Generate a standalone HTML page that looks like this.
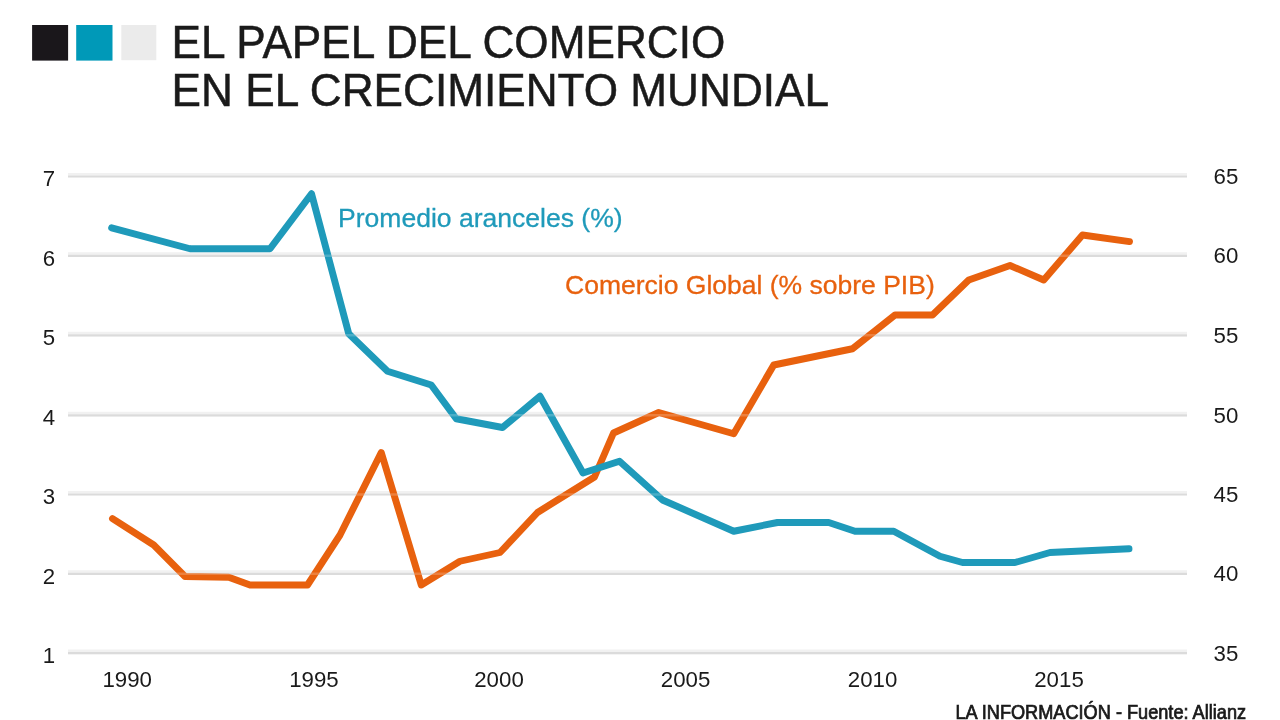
<!DOCTYPE html>
<html lang="es">
<head>
<meta charset="utf-8">
<title>El papel del comercio en el crecimiento mundial</title>
<style>
html,body{margin:0;padding:0;background:#fff;}
body{width:1280px;height:720px;overflow:hidden;position:relative;font-family:"Liberation Sans",Arial,Helvetica,sans-serif;}
svg{position:absolute;left:0;top:0;display:block;}
text{font-family:"Liberation Sans",Arial,Helvetica,sans-serif;fill:#1a1a1a;}
.title{font-size:46px;}
.ax{font-size:22px;}
.lab{font-size:25.5px;}
.foot{font-size:19.5px;}
</style>
</head>
<body>
<svg width="1280" height="720" viewBox="0 0 1280 720">
  <rect x="0" y="0" width="1280" height="720" fill="#ffffff"/>
  <g>
  <!-- header squares -->
  <rect x="32.1" y="25" width="36" height="35.6" fill="#1a171b"/>
  <rect x="76.2" y="25" width="36.3" height="35.6" fill="#0099b8"/>
  <rect x="121.3" y="25" width="35" height="35.2" fill="#ebebeb"/>
  <!-- gridlines -->
  <g stroke="#f1f1f1" stroke-width="2.4" fill="none">
    <line x1="68" y1="174.2" x2="1187" y2="174.2"/>
    <line x1="68" y1="253.5" x2="1187" y2="253.5"/>
    <line x1="68" y1="333" x2="1187" y2="333"/>
    <line x1="68" y1="413" x2="1187" y2="413"/>
    <line x1="68" y1="492.2" x2="1187" y2="492.2"/>
    <line x1="68" y1="571.5" x2="1187" y2="571.5"/>
    <line x1="68" y1="650.8" x2="1187" y2="650.8"/>
  </g>
  <g stroke="#d3d3d3" stroke-width="2.2" fill="none">
    <line x1="68" y1="176.5" x2="1187" y2="176.5"/>
    <line x1="68" y1="255.8" x2="1187" y2="255.8"/>
    <line x1="68" y1="335.3" x2="1187" y2="335.3"/>
    <line x1="68" y1="415.3" x2="1187" y2="415.3"/>
    <line x1="68" y1="494.5" x2="1187" y2="494.5"/>
    <line x1="68" y1="573.8" x2="1187" y2="573.8"/>
    <line x1="68" y1="653.1" x2="1187" y2="653.1"/>
  </g>
  <!-- series -->
  <polyline id="orange" fill="none" stroke="#e8610e" stroke-width="6.9" stroke-linejoin="round" stroke-linecap="round" points="112.5,518.6 153.75,545 185,576.5 228.75,577.3 250,585 307.5,585 340,535 381.25,452.5 421.25,585 460,561.25 500,552.5 537.5,512.5 594.5,477 613.5,433 658.75,412.5 733.75,433.75 773.75,365 852.5,348.75 895,315 932.5,315 968.75,280 1010,265.5 1043.75,280 1082.5,235 1129.5,241.6"/>
  <polyline id="blue" fill="none" stroke="#1f9aba" stroke-width="6.9" stroke-linejoin="round" stroke-linecap="round" points="111.6,227.8 190,248.75 270,248.75 311.5,193.75 348.75,333.75 387.5,371.25 431.25,385 456.25,418.75 502.5,427.5 540,396.25 583,473 619.5,461.25 662.5,500 733.75,531.25 777.5,522.5 828.75,522.5 855,531.25 893.75,531.25 940,556.25 962.5,562.5 1015,562.5 1050,552.5 1129,548.8"/>
  <!-- faint gridline overlay -->
  <g stroke="#ffffff" stroke-opacity="0.2" stroke-width="2.4" fill="none">
    <line x1="68" y1="176.5" x2="1187" y2="176.5"/>
    <line x1="68" y1="255.8" x2="1187" y2="255.8"/>
    <line x1="68" y1="335.3" x2="1187" y2="335.3"/>
    <line x1="68" y1="415.3" x2="1187" y2="415.3"/>
    <line x1="68" y1="494.5" x2="1187" y2="494.5"/>
    <line x1="68" y1="573.8" x2="1187" y2="573.8"/>
    <line x1="68" y1="653.1" x2="1187" y2="653.1"/>
  </g>
  <!-- text -->
  <text id="t1" class="title" transform="translate(171.6 58) scale(0.96 1)" style="stroke:#1a1a1a;stroke-width:0.52;">EL PAPEL DEL COMERCIO</text>
  <text id="t2" class="title" transform="translate(171.6 106.3) scale(0.96 1)" style="stroke:#1a1a1a;stroke-width:0.52;">EN EL CRECIMIENTO MUNDIAL</text>
  <text id="l1" class="lab" transform="translate(338 227) scale(1.041 1)" style="fill:#1f9aba;stroke:#1f9aba;stroke-width:0.29;">Promedio aranceles (%)</text>
  <text id="l2" class="lab" transform="translate(565 294) scale(1.04 1)" style="fill:#e8610e;stroke:#e8610e;stroke-width:0.29;">Comercio Global (% sobre PIB)</text>
  <text id="ft" class="foot" transform="translate(955.5 718.6) scale(0.932 1)" style="stroke:#1a1a1a;stroke-width:0.75;">LA INFORMACIÓN - Fuente: Allianz</text>
  <text id="L7" class="ax" transform="translate(49 186.2) scale(1.012 1)" text-anchor="middle">7</text>
  <text id="L6" class="ax" transform="translate(49 265.5) scale(1.012 1)" text-anchor="middle">6</text>
  <text id="L5" class="ax" transform="translate(49 345) scale(1.012 1)" text-anchor="middle">5</text>
  <text id="L4" class="ax" transform="translate(49 425) scale(1.012 1)" text-anchor="middle">4</text>
  <text id="L3" class="ax" transform="translate(49 504.2) scale(1.012 1)" text-anchor="middle">3</text>
  <text id="L2" class="ax" transform="translate(49 583.5) scale(1.012 1)" text-anchor="middle">2</text>
  <text id="L1" class="ax" transform="translate(49 662.8) scale(1.012 1)" text-anchor="middle">1</text>
  <text id="R65" class="ax" transform="translate(1226 184) scale(1.012 1)" text-anchor="middle">65</text>
  <text id="R60" class="ax" transform="translate(1226 263.3) scale(1.012 1)" text-anchor="middle">60</text>
  <text id="R55" class="ax" transform="translate(1226 342.8) scale(1.012 1)" text-anchor="middle">55</text>
  <text id="R50" class="ax" transform="translate(1226 422.8) scale(1.012 1)" text-anchor="middle">50</text>
  <text id="R45" class="ax" transform="translate(1226 502) scale(1.012 1)" text-anchor="middle">45</text>
  <text id="R40" class="ax" transform="translate(1226 581.3) scale(1.012 1)" text-anchor="middle">40</text>
  <text id="R35" class="ax" transform="translate(1226 660.6) scale(1.012 1)" text-anchor="middle">35</text>
  <text id="X1990" class="ax" transform="translate(127.2 687) scale(1.012 1)" text-anchor="middle">1990</text>
  <text id="X1995" class="ax" transform="translate(313.9 687) scale(1.012 1)" text-anchor="middle">1995</text>
  <text id="X2000" class="ax" transform="translate(499 687) scale(1.012 1)" text-anchor="middle">2000</text>
  <text id="X2005" class="ax" transform="translate(685.6 687) scale(1.012 1)" text-anchor="middle">2005</text>
  <text id="X2010" class="ax" transform="translate(872.6 687) scale(1.012 1)" text-anchor="middle">2010</text>
  <text id="X2015" class="ax" transform="translate(1059 687) scale(1.012 1)" text-anchor="middle">2015</text>
  </g>
</svg>
</body>
</html>
